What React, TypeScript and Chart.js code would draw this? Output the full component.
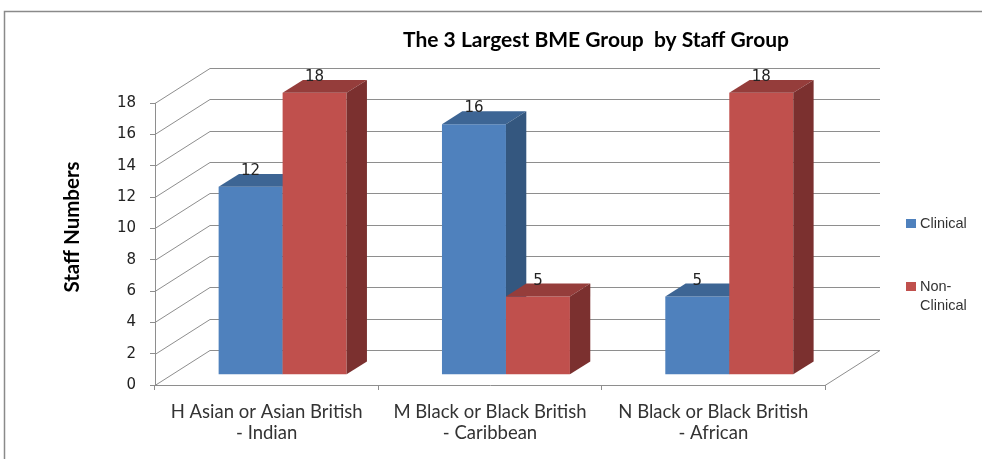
import React, { useEffect, useRef } from 'react';
import { Chart, registerables } from 'chart.js';

Chart.register(...registerables);

// ---- data ----
const categories: string[][] = [
  ['H Asian or Asian British', '- Indian'],
  ['M Black or Black British', '- Caribbean'],
  ['N Black or Black British', '- African'],
];
const seriesNames = ['Clinical', 'Non-Clinical'];
const clinical = [12, 16, 5];
const nonClinical = [18, 5, 18];
const yMin = 0;
const yMax = 18;
const yStep = 2;
const chartTitle = 'The 3 Largest BME Group  by Staff Group';
const yTitle = 'Staff Numbers';

// ---- styles ----
const W = 982;
const H = 459;
const GRID = '#8e8e8e';
const DEPTH_DX = 55;
const DEPTH_DY = -35;
const BAR_FRONT = 0.29;
const BAR_BACK = 0.66;
const COLORS = [
  { front: '#4F81BD', top: '#3D6594', side: '#34577F' },
  { front: '#C0504D', top: '#953D3B', side: '#7B302F' },
];

const line = (ctx: CanvasRenderingContext2D, x0: number, y0: number, x1: number, y1: number) => {
  ctx.beginPath();
  ctx.moveTo(x0, y0);
  ctx.lineTo(x1, y1);
  ctx.stroke();
};

const poly = (ctx: CanvasRenderingContext2D, pts: number[][], fill: string) => {
  ctx.beginPath();
  ctx.moveTo(pts[0][0], pts[0][1]);
  for (let i = 1; i < pts.length; i++) ctx.lineTo(pts[i][0], pts[i][1]);
  ctx.closePath();
  ctx.fillStyle = fill;
  ctx.fill();
};

const threeD = {
  id: 'threeD',
  beforeDraw(chart: any) {
    const ctx: CanvasRenderingContext2D = chart.ctx;
    ctx.save();
    ctx.fillStyle = '#ffffff';
    ctx.fillRect(0, 0, W, H);
    ctx.strokeStyle = '#8a8a8a';
    ctx.lineWidth = 1.5;
    ctx.strokeRect(4.5, 11.5, 1100, 600);
    ctx.restore();
  },
  beforeDatasetsDraw(chart: any) {
    const ctx: CanvasRenderingContext2D = chart.ctx;
    const { left, right, bottom } = chart.chartArea;
    const y = chart.scales.y;
    ctx.save();
    ctx.strokeStyle = GRID;
    ctx.lineWidth = 1;
    for (let v = yMin; v <= yMax; v += yStep) {
      const py = Math.round(y.getPixelForValue(v)) + 0.5;
      line(ctx, left, py, left + DEPTH_DX, py + DEPTH_DY);
      line(ctx, left + DEPTH_DX, py + DEPTH_DY, right + DEPTH_DX, py + DEPTH_DY);
    }
    line(ctx, right, bottom + 0.5, right + DEPTH_DX, bottom + 0.5 + DEPTH_DY);

    const fdx = DEPTH_DX * BAR_FRONT;
    const fdy = DEPTH_DY * BAR_FRONT;
    const ddx = DEPTH_DX * (BAR_BACK - BAR_FRONT);
    const ddy = DEPTH_DY * (BAR_BACK - BAR_FRONT);
    const nCat = chart.data.labels.length;
    for (let c = 0; c < nCat; c++) {
      chart.data.datasets.forEach((ds: any, i: number) => {
        const el = chart.getDatasetMeta(i).data[c];
        const col = COLORS[i];
        const x0 = el.x - el.width / 2 + fdx;
        const x1 = el.x + el.width / 2 + fdx;
        const yT = el.y + fdy;
        const yB = el.base + fdy;
        poly(ctx, [[x0, yT], [x1, yT], [x1, yB], [x0, yB]], col.front);
        poly(ctx, [[x0, yT], [x1, yT], [x1 + ddx, yT + ddy], [x0 + ddx, yT + ddy]], col.top);
        poly(ctx, [[x1, yT], [x1 + ddx, yT + ddy], [x1 + ddx, yB + ddy], [x1, yB]], col.side);
      });
    }
    ctx.restore();
    return false;
  },
  afterDraw(chart: any) {
    const ctx: CanvasRenderingContext2D = chart.ctx;
    ctx.save();
    const fdx = DEPTH_DX * BAR_FRONT;
    const fdy = DEPTH_DY * BAR_FRONT;
    // data labels
    ctx.font = '15px "DejaVu Sans"';
    ctx.fillStyle = '#222';
    ctx.textAlign = 'center';
    ctx.textBaseline = 'alphabetic';
    chart.data.datasets.forEach((ds: any, i: number) => {
      chart.getDatasetMeta(i).data.forEach((el: any, j: number) => {
        ctx.fillText(String(ds.data[j]), el.x + fdx, el.y + fdy - 12);
      });
    });
    // title
    ctx.font = 'bold 21px Lato';
    ctx.fillStyle = '#000';
    ctx.textBaseline = 'middle';
    ctx.fillText(chartTitle, 596, 40);
    // y title
    ctx.save();
    ctx.font = 'bold 20.5px Lato';
    ctx.translate(72, 227);
    ctx.rotate(-Math.PI / 2);
    ctx.fillText(yTitle, 0, 0);
    ctx.restore();
    // legend
    ctx.textAlign = 'left';
    ctx.font = '14.5px "Liberation Sans"';
    const legendY = [224, 287];
    chart.data.datasets.forEach((ds: any, i: number) => {
      ctx.fillStyle = COLORS[i].front;
      ctx.fillRect(906, legendY[i] - 5, 10, 9);
      ctx.fillStyle = '#333';
      const parts = i === 1 ? ['Non-', 'Clinical'] : [ds.label];
      parts.forEach((p: string, k: number) => ctx.fillText(p, 920, legendY[i] + k * 19));
    });
    ctx.restore();
  },
};

export default function App() {
  const ref = useRef<HTMLCanvasElement>(null);
  useEffect(() => {
    if (!ref.current) return;
    const chart = new Chart(ref.current, {
      type: 'bar',
      data: {
        labels: categories,
        datasets: [
          { label: seriesNames[0], data: clinical, backgroundColor: COLORS[0].front },
          { label: seriesNames[1], data: nonClinical, backgroundColor: COLORS[1].front },
        ],
      },
      options: {
        responsive: false,
        animation: false,
        devicePixelRatio: 1,
        layout: { padding: { left: 0, right: 157, top: 103, bottom: 0 } },
        plugins: { legend: { display: false }, title: { display: false }, tooltip: { enabled: false } },
        datasets: { bar: { categoryPercentage: 0.573, barPercentage: 1 } },
        scales: {
          x: {
            afterFit: (s: any) => { s.height = 74; },
            grid: { display: true, drawOnChartArea: false, drawTicks: true, tickLength: 5, color: GRID, offset: true },
            border: { display: true, color: GRID },
            ticks: { font: { family: 'Lato', size: 18.5, lineHeight: 1.14 }, color: '#333', padding: 11, maxRotation: 0, autoSkip: false },
          },
          y: {
            min: yMin,
            max: yMax,
            afterFit: (s: any) => { s.width = 155; },
            grid: { display: true, drawOnChartArea: false, drawTicks: true, tickLength: 5, color: GRID },
            border: { display: true, color: GRID },
            ticks: { stepSize: yStep, font: { family: 'DejaVu Sans', size: 15 }, color: '#222', padding: 14 },
          },
        },
      },
      plugins: [threeD],
    });
    return () => chart.destroy();
  }, []);
  return (
    <div style={{ position: 'absolute', left: 0, top: 0, width: W, height: H }}>
      <canvas ref={ref} width={W} height={H} />
    </div>
  );
}
